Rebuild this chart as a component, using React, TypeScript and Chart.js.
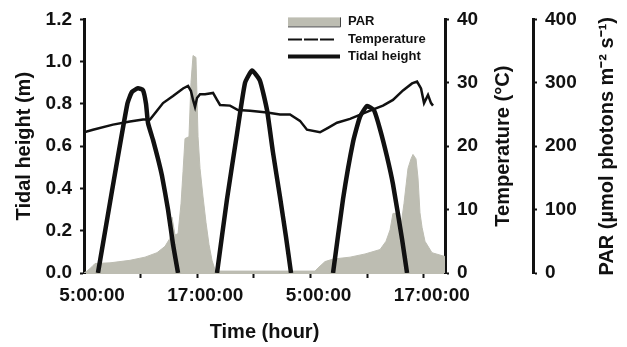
import { useEffect, useRef } from 'react';
import { Chart, registerables } from 'chart.js';

Chart.register(...registerables);

// Time axis in hours since midnight of day 1
const X_MIN = 4.15;
const X_MAX = 42.39;
const xLabelHours = [5, 17, 29, 41];
const xLabelTexts = ['5:00:00', '17:00:00', '5:00:00', '17:00:00'];
const xMarkHours = [10.15, 16.15, 22.15, 28.15, 34.15, 40.15];

// Tidal height (m)
const tideHours = [5.63, 7.12, 8.74, 9.23, 9.87, 10.4, 10.72, 10.93, 11.46, 11.99, 12.41, 13.05, 13.58, 14.11, 16.0,
  18.24, 19.3, 20.36, 21.21, 21.95, 22.79, 23.54, 24.17, 24.91, 25.55, 26.08, 28.0,
  30.53, 31.59, 32.65, 33.39, 34.13, 34.87, 35.51, 36.25, 36.88, 37.84, 38.37];
const tideValues = [0, 0.39, 0.8, 0.857, 0.874, 0.865, 0.8, 0.71, 0.63, 0.54, 0.46, 0.3, 0.135, 0, null,
  0, 0.35, 0.66, 0.9, 0.958, 0.91, 0.77, 0.57, 0.36, 0.17, 0, null,
  0, 0.35, 0.62, 0.74, 0.79, 0.77, 0.68, 0.55, 0.42, 0.16, 0];

// Temperature (°C)
const tempHours = [4.15, 5.1, 7.22, 9.02, 10.4, 11.14, 11.88, 12.52, 13.58, 14.64, 15.17, 15.48, 15.7, 15.91, 16.12,
  16.44, 16.97, 17.82, 18.24, 18.56, 19.62, 20.46, 21.74, 23.54, 24.91, 25.97, 27.03, 27.77, 29.15, 30.0, 30.95,
  32.33, 34.45, 35.82, 36.88, 37.94, 38.9, 39.43, 39.85, 40.17, 40.59, 40.91, 41.12];
const tempValues = [22.2, 22.6, 23.4, 23.9, 24.2, 24.2, 25.6, 26.8, 27.9, 29.1, 29.5, 28.7, 27.3, 26.2, 27.6,
  28.2, 28.2, 28.4, 27.3, 26.5, 26.4, 25.7, 25.6, 25.3, 25.0, 25.0, 24.0, 22.6, 22.2, 22.9, 23.7,
  24.3, 25.6, 26.4, 27.3, 28.8, 29.9, 30.2, 29.1, 26.8, 28.1, 26.8, 26.4];

// PAR (µmol photons m-2 s-1)
const parHours = [4.15, 4.47, 5.0, 5.32, 6.9, 9.02, 10.61, 11.88, 12.73, 13.26, 13.47, 13.79, 14.11, 14.43, 14.64,
  14.85, 15.27, 15.48, 15.7, 16.01, 16.23, 16.44, 16.76, 17.07, 17.39, 17.71, 18.03, 18.35, 28.62, 28.94, 29.68,
  30.53, 32.33, 33.92, 35.51, 36.14, 36.57, 36.88, 37.31, 37.73, 38.05, 38.47, 38.79, 39.0, 39.32, 39.53, 39.74,
  39.96, 40.27, 41.01, 42.39];
const parValues = [0, 3, 10, 15, 16, 20, 25, 32, 42, 55, 88, 60, 62, 110, 160,
  212, 215, 300, 343, 340, 215, 165, 120, 80, 45, 20, 5, 3, 3, 8, 18,
  22, 25, 30, 37, 50, 68, 94, 94, 75, 110, 165, 180, 187, 180, 150, 95,
  72, 50, 32, 26];

const tideTicks = [0, 0.2, 0.4, 0.6, 0.8, 1.0, 1.2];
const tempTicks = [0, 10, 20, 30, 40];
const parTicks = [0, 100, 200, 300, 400];

const tempTitle = 'Temperature (°C)';
const parTitle = 'PAR (µmol photons m⁻² s⁻¹)';

const PAR_COLOR = '#BDBDB2';
const INK = '#111111';
const FONT = "'Liberation Sans', Arial, Helvetica, sans-serif";

const toXY = (hs: number[], vs: (number | null)[]) => hs.map((h, i) => ({ x: h, y: vs[i] }));

const legendPlugin = {
  id: 'customLegend',
  afterDraw(chart: any) {
    const { ctx, chartArea } = chart;
    const x0 = chartArea.left + 204;
    const x1 = x0 + 52;
    const tx = x1 + 8;
    const rows = [chartArea.top + 2, chartArea.top + 20, chartArea.top + 37];
    ctx.save();
    // PAR swatch
    ctx.fillStyle = PAR_COLOR;
    ctx.fillRect(x0, rows[0] - 4, x1 - x0, 9);
    ctx.strokeStyle = '#444';
    ctx.lineWidth = 1;
    ctx.beginPath();
    ctx.moveTo(x0, rows[0] + 5.5);
    ctx.lineTo(x1 + 0.5, rows[0] + 5.5);
    ctx.lineTo(x1 + 0.5, rows[0] - 4);
    ctx.stroke();
    // Temperature swatch (dashed)
    ctx.strokeStyle = INK;
    ctx.lineWidth = 2;
    ctx.setLineDash([14, 2]);
    ctx.beginPath();
    ctx.moveTo(x0, rows[1]);
    ctx.lineTo(x1 - 5, rows[1]);
    ctx.stroke();
    ctx.setLineDash([]);
    // Tidal height swatch
    ctx.lineWidth = 4;
    ctx.beginPath();
    ctx.moveTo(x0, rows[2]);
    ctx.lineTo(x1, rows[2]);
    ctx.stroke();
    // Text
    ctx.fillStyle = INK;
    ctx.font = `bold 13px ${FONT}`;
    ctx.textBaseline = 'middle';
    ctx.textAlign = 'left';
    ctx.fillText('PAR', tx, rows[0]);
    ctx.fillText('Temperature', tx, rows[1]);
    ctx.fillText('Tidal height', tx, rows[2]);

    // Right-axis titles, reading bottom-to-top
    const cy = (chartArea.top + chartArea.bottom) / 2;
    ctx.font = `bold 20px ${FONT}`;
    ctx.textAlign = 'center';
    const drawV = (text: string, cx: number) => {
      ctx.save();
      ctx.translate(cx, cy);
      ctx.rotate(-Math.PI / 2);
      ctx.fillText(text, 0, 0);
      ctx.restore();
    };
    drawV(tempTitle, chart.scales.yT.right - 30);
    drawV(parTitle, chart.scales.yP.right - 20);
    ctx.restore();
  },
};

export default function App() {
  const ref = useRef<HTMLCanvasElement>(null);
  useEffect(() => {
    const tickFont = { family: FONT, size: 19, weight: 'bold' as const };
    const titleFont = { family: FONT, size: 20, weight: 'bold' as const };
    const yGrid = {
      drawOnChartArea: false,
      drawTicks: true,
      tickLength: 4,
      tickWidth: 2,
      tickColor: INK,
    };
    const chart = new Chart(ref.current!, {
      type: 'line',
      data: {
        datasets: [
          {
            label: 'Tidal height',
            data: toXY(tideHours, tideValues),
            yAxisID: 'y',
            borderColor: INK,
            borderWidth: 4.5,
            pointRadius: 0,
            tension: 0.15,
            spanGaps: false,
            fill: false,
          },
          {
            label: 'Temperature',
            data: toXY(tempHours, tempValues),
            yAxisID: 'yT',
            borderColor: INK,
            borderWidth: 2.5,
            pointRadius: 0,
            tension: 0,
            fill: false,
          },
          {
            label: 'PAR',
            data: toXY(parHours, parValues),
            yAxisID: 'yP',
            borderColor: PAR_COLOR,
            backgroundColor: PAR_COLOR,
            borderWidth: 1,
            pointRadius: 0,
            tension: 0,
            fill: 'origin',
          },
        ],
      },
      options: {
        responsive: false,
        animation: false,
        devicePixelRatio: 1,
        layout: { padding: { top: 15, left: 0, right: 0, bottom: 0 } },
        plugins: { legend: { display: false }, tooltip: { enabled: false } },
        scales: {
          x: {
            type: 'linear',
            min: X_MIN,
            max: X_MAX,
            afterBuildTicks: (scale: any) => {
              scale.ticks = [...xLabelHours, ...xMarkHours].sort((a, b) => a - b).map((v) => ({ value: v }));
            },
            afterFit: (scale: any) => { scale.height = 74; },
            ticks: {
              autoSkip: false,
              maxRotation: 0,
              padding: 6,
              color: INK,
              font: tickFont,
              callback: (value: any) => {
                const i = xLabelHours.indexOf(value);
                return i >= 0 ? xLabelTexts[i] : '';
              },
            },
            grid: {
              drawOnChartArea: false,
              drawTicks: true,
              tickLength: 5,
              tickWidth: 2,
              tickColor: (ctx: any) => (ctx.tick && xLabelHours.includes(ctx.tick.value) ? 'rgba(0,0,0,0)' : INK),
            },
            border: { display: true, color: PAR_COLOR, width: 2 },
            title: { display: true, text: 'Time (hour)', color: INK, font: titleFont, padding: { top: 0, bottom: 3 } },
          },
          y: {
            position: 'left',
            min: 0,
            max: 1.2,
            afterBuildTicks: (scale: any) => { scale.ticks = tideTicks.map((v) => ({ value: v })); },
            afterFit: (scale: any) => { scale.width = 84; },
            ticks: { padding: 8, color: INK, font: tickFont, callback: (v: any) => Number(v).toFixed(1) },
            grid: yGrid,
            border: { display: true, color: INK, width: 3 },
            title: { display: true, text: 'Tidal height (m)', color: INK, font: titleFont, padding: { top: 12, bottom: 0 } },
          },
          yT: {
            position: 'right',
            weight: 0,
            min: 0,
            max: 40,
            afterBuildTicks: (scale: any) => { scale.ticks = tempTicks.map((v) => ({ value: v })); },
            afterFit: (scale: any) => { scale.width = 88; },
            ticks: { padding: 8, color: INK, font: tickFont },
            grid: yGrid,
            border: { display: true, color: INK, width: 3 },
            title: { display: false },
          },
          yP: {
            position: 'right',
            weight: 1,
            min: 0,
            max: 400,
            afterBuildTicks: (scale: any) => { scale.ticks = parTicks.map((v) => ({ value: v })); },
            afterFit: (scale: any) => { scale.width = 94; },
            ticks: { padding: 8, color: INK, font: tickFont },
            grid: yGrid,
            border: { display: true, color: INK, width: 3 },
            title: { display: false },
          },
        },
      } as any,
      plugins: [legendPlugin],
    });
    return () => chart.destroy();
  }, []);
  return (
    <div style={{ position: 'absolute', left: 0, top: 0, width: 627, height: 347, background: '#fff' }}>
      <canvas ref={ref} width={627} height={347} style={{ display: 'block' }} />
    </div>
  );
}
